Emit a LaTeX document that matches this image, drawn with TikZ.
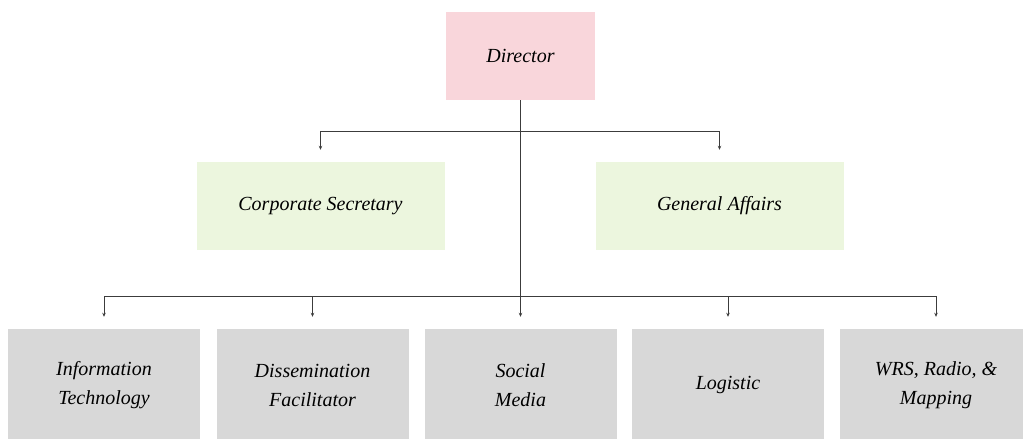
\documentclass[tikz,border=0pt]{standalone}
\usepackage{fontspec}
\setmainfont{Liberation Serif}
\usetikzlibrary{arrows.meta}
\definecolor{dirpink}{RGB}{249,214,219}
\definecolor{midgreen}{RGB}{236,246,222}
\definecolor{lowgray}{RGB}{216,216,216}
\definecolor{linegray}{RGB}{60,60,60}
\begin{document}
\begin{tikzpicture}[x=1pt,y=-1pt,
  box/.style={minimum width=#1, inner sep=0pt, align=center, font=\fontsize{20}{29}\selectfont\itshape},
  dirbox/.style={box=149pt, minimum height=88pt, fill=dirpink},
  midbox/.style={box=248pt, minimum height=88pt, fill=midgreen},
  lowbox/.style={box=192pt, minimum height=112pt, fill=lowgray},
  conn/.style={draw=linegray, line width=1pt, -{Stealth[length=4pt,width=3.5pt]}, shorten >=12pt}]
\useasboundingbox (0,0) rectangle (1023,439);
\node[dirbox] (dir) at (520.5,56) {Director};
\node[midbox] (cs) at (320.5,206) {Corporate Secretary};
\node[midbox] (ga) at (719.5,206) {General Affairs};
\node[lowbox] (it) at (104,385) {Information\\Technology};
\node[lowbox] (df) at (312.5,385) {Dissemination\\Facilitator};
\node[lowbox] (sm) at (520.5,385) {Social\\Media};
\node[lowbox] (lg) at (728,385) {Logistic};
\node[lowbox] (wr) at (936,385) {WRS, Radio, \&\\Mapping};
\coordinate (topbar) at (520.5,131);
\coordinate (lowbar) at (520.5,296);
\draw[conn] (dir.south) -- (sm.north);
\draw[conn] (topbar) -| (cs.north);
\draw[conn] (topbar) -| (ga.north);
\draw[conn] (lowbar) -| (it.north);
\draw[conn] (lowbar) -| (df.north);
\draw[conn] (lowbar) -| (lg.north);
\draw[conn] (lowbar) -| (wr.north);
\end{tikzpicture}
\end{document}
